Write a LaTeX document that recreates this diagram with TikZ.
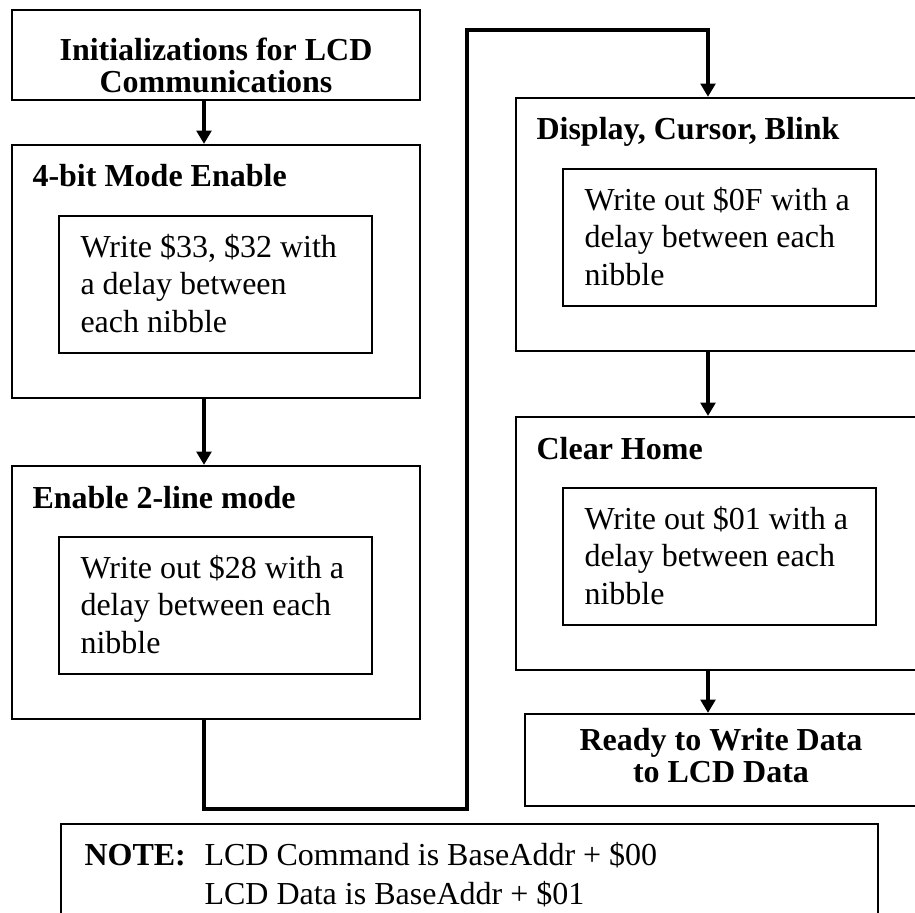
\documentclass[tikz,border=0pt]{standalone}
\usepackage{fontspec}
\setmainfont{Liberation Serif}
\usetikzlibrary{arrows.meta,fit}

\begin{document}
\begin{tikzpicture}[x=0.375pt,y=-0.375pt,every node/.style={font=\fontsize{12pt}{13.9pt}\selectfont,inner sep=0pt},
  box/.style={draw,line width=0.8pt,inner sep=0pt},
  hd/.style={font=\fontsize{12pt}{13.9pt}\selectfont\bfseries},
  hdc/.style={font=\fontsize{12pt}{12pt}\selectfont\bfseries,align=center,anchor=base},
  conn/.style={line width=1.5pt,-{Triangle[length=5pt,width=5.5pt]}}]
  \useasboundingbox (0,0) rectangle (915,912);
  \node[box,fit={(12,10)(420,100)}] (init) {};
  \node[hdc] (init-t) at (216,93) {Initializations for LCD\\Communications};
  \foreach \n/\x/\y/\r/\title/\body in {m4/12/145/420/{4-bit Mode Enable}/{Write \$33, \$32 with\\a delay between\\each nibble},
    m2/12/466/420/{Enable 2-line mode}/{Write out \$28 with a\\delay between each\\nibble},
    dcb/516/98/918/{Display, Cursor, Blink}/{Write out \$0F with a\\delay between each\\nibble},
    clr/516/417/918/{Clear Home}/{Write out \$01 with a\\delay between each\\nibble}}{
    \node[box,fit={(\x,\y)(\r,\y+253)}] (\n) {};
    \node[hd,anchor=base west] (\n-t) at (\x+20,\y+42) {\title};
    \node[box,fit={(\x+47,\y+71)(\x+360,\y+208)}] (\n-in) {};
    \node[align=left,anchor=base west] (\n-tx) at (\x+68,\y+187) {\body};
  }
  \node[box,fit={(525,714)(918,806)}] (rdy) {};
  \node[hdc] (rdy-t) at (721,782) {Ready to Write Data\\to LCD Data};
  \node[box,fit={(61,824)(878,935)}] (note) {};
  \node[hd,anchor=base west] (note-h) at (84,865) {NOTE:};
  \node[anchor=base west] (note-a) at (204,865) {LCD Command is BaseAddr + \$00};
  \node[anchor=base west] (note-b) at (204,904) {LCD Data is BaseAddr + \$01};
  % connectors
  \coordinate (c1) at (204,0);
  \coordinate (c2) at (467,809);
  \coordinate (c3) at (708,30);
  \draw[conn] (init.south -| c1) -- (m4.north -| c1);
  \draw[conn] (m4.south -| c1) -- (m2.north -| c1);
  \draw[conn] (m2.south -| c1) |- (c2) |- (c3) -- (dcb.north -| c3);
  \draw[conn] (dcb.south -| c3) -- (clr.north -| c3);
  \draw[conn] (clr.south -| c3) -- (rdy.north -| c3);
\end{tikzpicture}
\end{document}
